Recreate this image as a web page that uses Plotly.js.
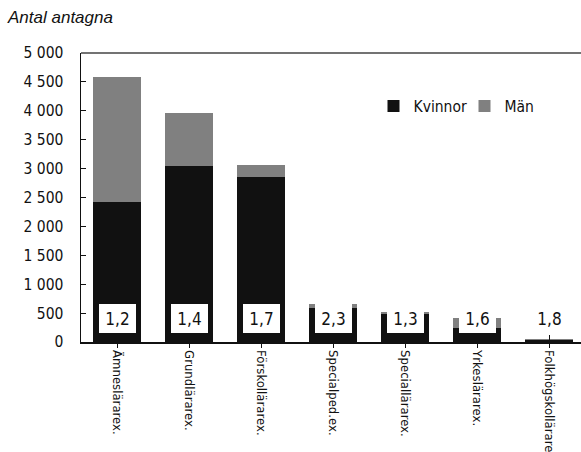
<!DOCTYPE html>
<html><head><meta charset="utf-8">
<script src="https://cdn.plot.ly/plotly-3.0.1.min.js"></script>
<style>html,body{margin:0;padding:0;background:#fff;overflow:hidden}#c{width:581px;height:452px}</style>
</head><body><div id="c"></div>
<script>
const categories = ['Ämneslärarex.', 'Grundlärarex.', 'Förskollärarex.', 'Specialped.ex.', 'Speciallärarex.', 'Yrkeslärarex.', 'Folkhögskollärarex.'];
const kvinnor = [2420, 3045, 2855, 595, 480, 245, 35];
const man = [2160, 920, 205, 60, 35, 175, 10];
const ratios = ['1,2', '1,4', '1,7', '2,3', '1,3', '1,6', '1,8'];
const labelY = 405;

const NF = '"DejaVu Sans Condensed", "Liberation Sans", sans-serif';
const idx = categories.map((_, i) => i);

const traces = [
  {type:'bar', name:'Kvinnor', x: idx, y: kvinnor, marker:{color:'#111111', line:{width:0}}, width:0.66},
  {type:'bar', name:'Män', x: idx, y: man, marker:{color:'#808080', line:{width:0}}, width:0.66},
  {type:'scatter', x: idx, y: idx.map(()=>null), xaxis:'x2', showlegend:false, hoverinfo:'skip'}
];

const layout = {
  width:581, height:452, barmode:'stack', separators:', ',
  margin:{l:81, r:0, t:53, b:110, autoexpand:false},
  paper_bgcolor:'#fff', plot_bgcolor:'#fff',
  font:{family:NF, size:15, color:'#111'},
  title:{text:'<i>Antal antagna</i>', x:8/581, xanchor:'left', xref:'container', y:1-11/452, yanchor:'top', yref:'container',
         font:{family:'"Liberation Sans", Arial, sans-serif', size:17, color:'#111'}},
  xaxis:{range:[-0.5, -0.5+500/72], tickmode:'array', tickvals: idx, ticktext: categories, tickangle:90,
         ticks:'outside', ticklen:4, tickson:'boundaries', tickcolor:'#111', showline:true, linecolor:'#111', linewidth:1.5,
         mirror:false, showgrid:false, zeroline:false, automargin:false, tickfont:{family:NF, size:13, color:'#111'}},
  xaxis2:{overlaying:'x', range:[-0.5, -0.5+500/72], tickmode:'array', tickvals: idx, ticktext: idx.map(()=>''),
          ticks:'inside', ticklen:7, tickson:'boundaries', tickcolor:'#111', showline:false, showgrid:false, zeroline:false, side:'bottom', anchor:'y'},
  yaxis:{range:[0,5000], dtick:500, tickformat:',d', ticks:'inside', ticklen:5, tickcolor:'#111', showline:true, linecolor:'#111', linewidth:1.5,
         showgrid:false, zeroline:false, automargin:false, ticklabelstandoff:13, tickfont:{family:NF, size:15.5, color:'#111'}},
  shapes:[{type:'line', xref:'paper', yref:'paper', x0:0, x1:1, y0:1, y1:1, line:{color:'#444', width:1.5}}],
  legend:{orientation:'h', x:0.585, xanchor:'left', y:0.815, yanchor:'middle', bgcolor:'rgba(0,0,0,0)',
          font:{family:NF, size:15.5, color:'#111'}, itemwidth:30, traceorder:'normal', entrywidth:46, entrywidthmode:'pixels'},
  annotations: ratios.map((r, i) => ({xref:'x', yref:'y', x:i, y:labelY, text:r, showarrow:false, bgcolor:'#fff',
    width:37, height:29, borderpad:0, borderwidth:0, font:{family:NF, size:17, color:'#111'}})),
  showlegend:true
};
Plotly.newPlot('c', traces, layout, {displayModeBar:false, staticPlot:true});
</script></body></html>
